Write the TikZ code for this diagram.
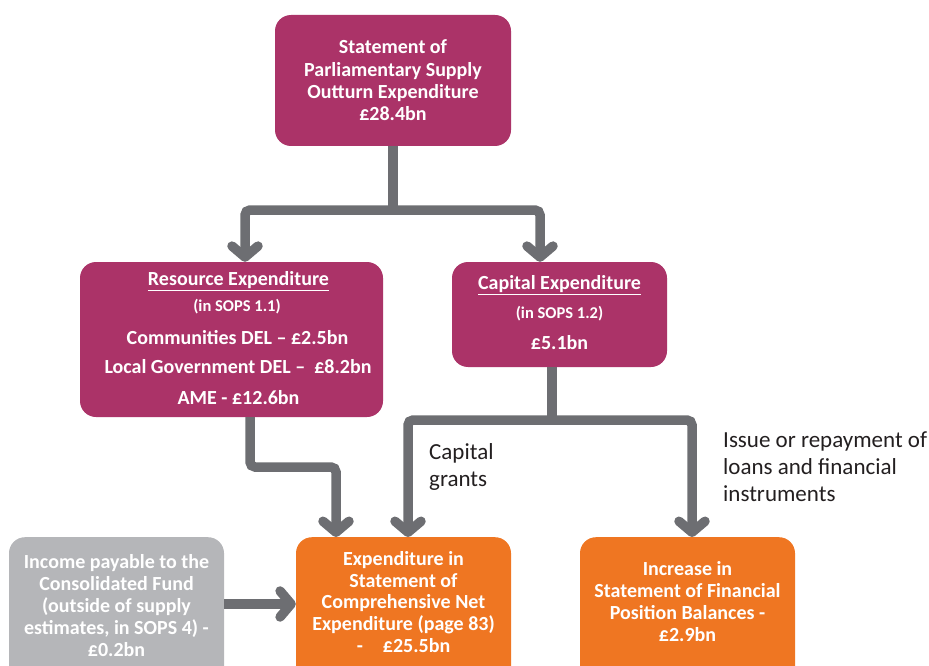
\documentclass[tikz,border=0pt]{standalone}
\usepackage{fontspec}
\setmainfont{Carlito}
\usetikzlibrary{arrows.meta}
\definecolor{plum}{HTML}{AB3368}
\definecolor{tangerine}{HTML}{EF7622}
\definecolor{ash}{HTML}{B5B6B9}
\definecolor{pipe}{HTML}{6D6E72}
\definecolor{ink}{HTML}{231F20}
\tikzset{
  box/.style={rectangle, rounded corners=16pt, draw=none, text=white,
    font=\bfseries\fontsize{20}{22.4}\selectfont, align=center, inner sep=0pt},
  plumbox/.style={box, fill=plum},
  orangebox/.style={box, fill=tangerine},
  greybox/.style={box, fill=ash},
  boxtext/.style={text=white, font=\bfseries\fontsize{20}{22}\selectfont, align=center, inner sep=0pt},
  smalltext/.style={boxtext, font=\bfseries\fontsize{16.5}{18}\selectfont},
  conn/.style={draw=pipe, line width=9.5pt},
  arr/.style={conn, rounded corners=5pt, -{Straight Barb[length=11pt, width=26pt, round]}},
  note/.style={text=ink, font=\fontsize{23}{27}\selectfont, align=left, inner sep=0pt, anchor=west}
}
\begin{document}
\begin{tikzpicture}[x=1pt, y=-1pt]
\clip (0,0) rectangle (929,666);

% boxes
\node[plumbox, minimum width=236pt, minimum height=131pt] (top) at (393,80.5)
  {Statement of\\Parliamentary Supply\\Outturn Expenditure\\£28.4bn};

\node[plumbox, minimum width=303pt, minimum height=155pt] (res) at (231.5,339.5) {};
\node[boxtext] (res1) at (238.5,281) {\underline{Resource Expenditure}};
\node[smalltext] (res2) at (237,307) {(in SOPS 1.1)};
\node[boxtext] (res3) at (237.5,338) {Communities DEL – £2.5bn};
\node[boxtext] (res4) at (238,367) {Local Government DEL –\ \ £8.2bn};
\node[boxtext] (res5) at (238.5,398) {AME - £12.6bn};

\node[plumbox, minimum width=215pt, minimum height=105pt] (cap) at (559.5,314.5) {};
\node[boxtext] (cap1) at (559.5,285) {\underline{Capital Expenditure}};
\node[smalltext] (cap2) at (559.5,314) {(in SOPS 1.2)};
\node[boxtext] (cap3) at (559.5,343) {£5.1bn};

\node[greybox, minimum width=215pt, minimum height=150pt, anchor=north] (inc) at (116.5,537) {};
\node[boxtext] (inctext) at (116.5,606)
  {Income payable to the\\Consolidated Fund\\(outside of supply\\estimates, in SOPS 4) -\\£0.2bn};

\node[orangebox, minimum width=215pt, minimum height=150pt, anchor=north] (exp) at (403.5,537) {};
\node[boxtext, font=\bfseries\fontsize{20}{21.6}\selectfont] (exptext) at (403.5,602)
  {Expenditure in\\Statement of\\Comprehensive Net\\Expenditure (page 83)\\-\quad £25.5bn};

\node[orangebox, minimum width=215pt, minimum height=150pt, anchor=north] (bal) at (687.5,537) {};
\node[boxtext] (baltext) at (687.5,602)
  {Increase in\\Statement of Financial\\Position Balances -\\£2.9bn};

% connectors
\coordinate (j1) at (393,210);
\draw[conn] (top.south) -- (j1);
\draw[arr] (j1) -| ([xshift=13.5pt]res.north);
\draw[arr] (j1) -| ([xshift=-19.5pt]cap.north);

\coordinate (bend) at (300,467);
\draw[arr] ([xshift=18.5pt]res.south) |- (bend) -| ([xshift=-67.5pt]exp.north);

\coordinate (j2) at (552,420);
\draw[conn] ([xshift=-7.5pt]cap.south) -- (j2);
\draw[arr] (j2) -| ([xshift=4.5pt]exp.north);
\draw[arr] (j2) -| ([xshift=4.5pt]bal.north);

\coordinate (midy) at (0,604);
\draw[conn, -{Straight Barb[length=11pt, width=26pt, round]}] (inc.east |- midy) -- (exp.west |- midy);

% labels
\node[note] (grants) at (429,467) {Capital\\grants};
\node[note] (loans) at (723,467) {Issue or repayment of\\loans and financial\\instruments};
\end{tikzpicture}
\end{document}
